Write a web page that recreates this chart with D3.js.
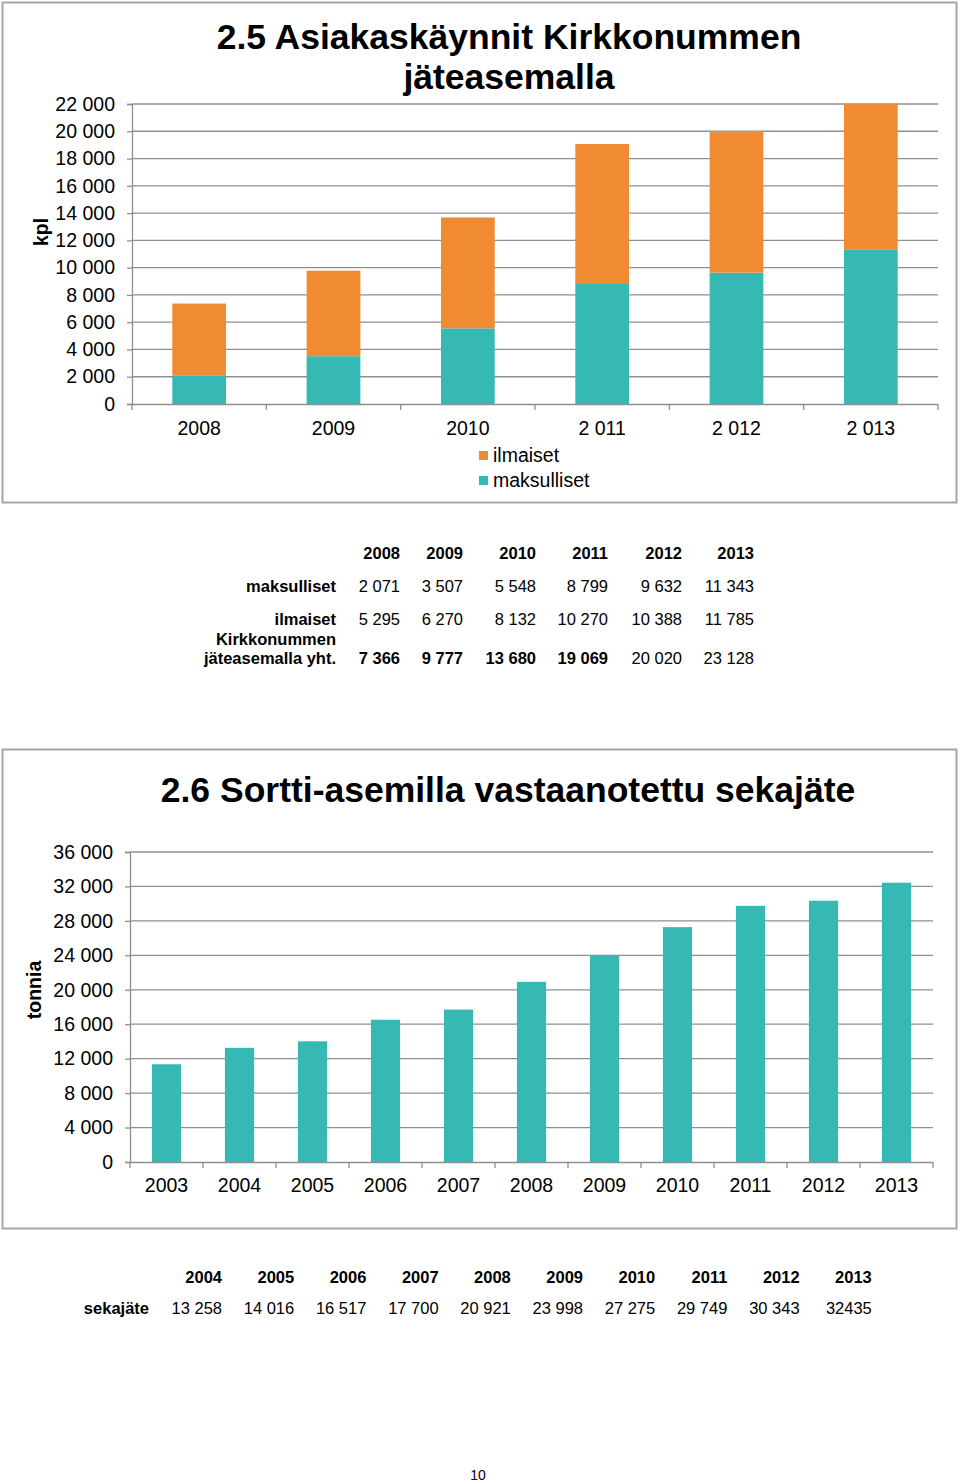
<!DOCTYPE html>
<html>
<head>
<meta charset="utf-8">
<script src="https://cdn.jsdelivr.net/npm/d3@7"></script>
<style>
  body { margin: 0; background: #fff; }
  text { font-family: "Liberation Sans", Arial, sans-serif; fill: #000; }
</style>
</head>
<body>
<svg id="page" width="960" height="1484"></svg>
<script>
// chart 2.5 data
var years1 = ["2008", "2009", "2010", "2011", "2012", "2013"];
var yearLabels1 = ["2008", "2009", "2010", "2 011", "2 012", "2 013"];
var maksulliset = [2071, 3507, 5548, 8799, 9632, 11343];
var ilmaiset = [5295, 6270, 8132, 10270, 10388, 11785];
var yhteensa = [7366, 9777, 13680, 19069, 20020, 23128];
var yhtBold = [true, true, true, true, false, false];

// chart 2.6 data
var years2 = ["2003", "2004", "2005", "2006", "2007", "2008", "2009", "2010", "2011", "2012", "2013"];
var sekajate = [11350, 13258, 14016, 16517, 17700, 20921, 23998, 27275, 29749, 30343, 32435];
var tableYears2 = ["2004", "2005", "2006", "2007", "2008", "2009", "2010", "2011", "2012", "2013"];
var tableVals2 = ["13 258", "14 016", "16 517", "17 700", "20 921", "23 998", "27 275", "29 749", "30 343", "32435"];

var orange = "#f08a33",
    teal = "#36b9b4",
    gridCol = "#8f8f8f",
    frameCol = "#a6a6a6";

var axisFont = 19.5, tableFont = 16.5, titleFont = 35.5;

var fi = d3.formatLocale({decimal: ",", thousands: " ", grouping: [3], currency: ["", ""]});
var fmt = fi.format(",");

var svg = d3.select("#page");

// ---------- chart 2.5 ----------
svg.append("rect")
  .attr("x", 2.5).attr("y", 2.5).attr("width", 954).attr("height", 500)
  .attr("fill", "none").attr("stroke", frameCol).attr("stroke-width", 2);

svg.append("text").attr("x", 509).attr("y", 49)
  .attr("text-anchor", "middle").attr("font-size", titleFont).attr("font-weight", "bold")
  .text("2.5 Asiakaskäynnit Kirkkonummen");
svg.append("text").attr("x", 509).attr("y", 89)
  .attr("text-anchor", "middle").attr("font-size", titleFont).attr("font-weight", "bold")
  .text("jäteasemalla");

var x1 = d3.scaleBand().domain(years1).range([132, 938]).paddingInner(0.6).paddingOuter(0.3);
var y1 = d3.scaleLinear().domain([0, 22000]).range([404, 104]);

var g1 = svg.append("g");

// gridlines
g1.selectAll("line.grid").data(y1.ticks(11).filter(function(d) { return d > 0; }))
  .enter().append("line")
  .attr("x1", 132).attr("x2", 938)
  .attr("y1", function(d) { return y1(d); }).attr("y2", function(d) { return y1(d); })
  .attr("stroke", gridCol).attr("stroke-width", 1.3);

svg.append("clipPath").attr("id", "clip1")
  .append("rect").attr("x", 132).attr("y", 104).attr("width", 806).attr("height", 300);

var rows1 = years1.map(function(y, i) { return {year: y, maksulliset: maksulliset[i], ilmaiset: ilmaiset[i]}; });
var stack1 = d3.stack().keys(["maksulliset", "ilmaiset"])(rows1);
var colors1 = {maksulliset: teal, ilmaiset: orange};

g1.append("g").attr("clip-path", "url(#clip1)")
  .selectAll("g").data(stack1).enter().append("g")
  .attr("fill", function(d) { return colors1[d.key]; })
  .selectAll("rect").data(function(d) { return d; }).enter().append("rect")
  .attr("x", function(d) { return x1(d.data.year); })
  .attr("width", x1.bandwidth())
  .attr("y", function(d) { return y1(d[1]); })
  .attr("height", function(d) { return y1(d[0]) - y1(d[1]); });

// y axis
var ay1 = g1.append("g").attr("transform", "translate(132,0)")
  .call(d3.axisLeft(y1).ticks(11).tickSize(5).tickPadding(12).tickFormat(fmt));
ay1.select(".domain").attr("stroke", gridCol).attr("stroke-width", 1.3);
ay1.selectAll(".tick line").attr("stroke", gridCol).attr("stroke-width", 1.3);
ay1.selectAll(".tick text").attr("font-size", axisFont).attr("font-family", "Liberation Sans, Arial, sans-serif").attr("fill", "#000");

// x axis
g1.append("line").attr("x1", 132).attr("x2", 938).attr("y1", 404.5).attr("y2", 404.5)
  .attr("stroke", gridCol).attr("stroke-width", 1.3);
var step1 = x1.step();
g1.selectAll("line.xt").data(d3.range(years1.length + 1)).enter().append("line")
  .attr("x1", function(i) { return 132 + i * step1; }).attr("x2", function(i) { return 132 + i * step1; })
  .attr("y1", 404).attr("y2", 410)
  .attr("stroke", gridCol).attr("stroke-width", 1.3);
g1.selectAll("text.xl").data(years1).enter().append("text")
  .attr("x", function(d) { return x1(d) + x1.bandwidth() / 2; })
  .attr("y", 435).attr("text-anchor", "middle").attr("font-size", axisFont)
  .text(function(d, i) { return yearLabels1[i]; });

svg.append("text").attr("transform", "translate(48,232) rotate(-90)")
  .attr("text-anchor", "middle").attr("font-size", 19.5).attr("font-weight", "bold").text("kpl");

// legend
var leg = [{name: "ilmaiset", col: orange}, {name: "maksulliset", col: teal}];
var lg = svg.append("g").selectAll("g").data(leg).enter().append("g")
  .attr("transform", function(d, i) { return "translate(479," + (449 + i * 25) + ")"; });
lg.append("rect").attr("width", 9).attr("height", 9).attr("y", 2).attr("fill", function(d) { return d.col; });
lg.append("text").attr("x", 14).attr("y", 13).attr("font-size", axisFont).text(function(d) { return d.name; });

// table 1
var colX1 = [400, 463, 536, 608, 682, 754];
var t1 = svg.append("g");
t1.selectAll("text.h").data(years1).enter().append("text")
  .attr("x", function(d, i) { return colX1[i]; }).attr("y", 559)
  .attr("text-anchor", "end").attr("font-size", tableFont).attr("font-weight", "bold").text(function(d) { return d; });
var tRows = [
  {label: ["maksulliset"], vals: maksulliset, y: 592},
  {label: ["ilmaiset"], vals: ilmaiset, y: 625},
  {label: ["Kirkkonummen", "jäteasemalla yht."], vals: yhteensa, y: 664, bold: yhtBold}
];
tRows.forEach(function(r) {
  r.label.forEach(function(l, j) {
    t1.append("text").attr("x", 336).attr("y", r.y - (r.label.length - 1 - j) * 19.5)
      .attr("text-anchor", "end").attr("font-size", tableFont).attr("font-weight", "bold").text(l);
  });
  t1.selectAll(null).data(r.vals).enter().append("text")
    .attr("x", function(d, i) { return colX1[i]; }).attr("y", r.y)
    .attr("text-anchor", "end").attr("font-size", tableFont)
    .attr("font-weight", function(d, i) { return r.bold && r.bold[i] ? "bold" : "normal"; })
    .text(function(d) { return fmt(d); });
});

// ---------- chart 2.6 ----------
svg.append("rect")
  .attr("x", 2.5).attr("y", 749.5).attr("width", 954).attr("height", 479)
  .attr("fill", "none").attr("stroke", frameCol).attr("stroke-width", 2);

svg.append("text").attr("x", 508).attr("y", 802)
  .attr("text-anchor", "middle").attr("font-size", titleFont).attr("font-weight", "bold")
  .text("2.6 Sortti-asemilla vastaanotettu sekajäte");

var x2 = d3.scaleBand().domain(years2).range([130, 933]).paddingInner(0.6).paddingOuter(0.3);
var y2 = d3.scaleLinear().domain([0, 36000]).range([1162, 852]);
var ticks2 = d3.range(0, 36001, 4000);

var g2 = svg.append("g");
g2.selectAll("line.grid").data(ticks2.filter(function(d) { return d > 0; }))
  .enter().append("line")
  .attr("x1", 130).attr("x2", 933)
  .attr("y1", function(d) { return y2(d); }).attr("y2", function(d) { return y2(d); })
  .attr("stroke", gridCol).attr("stroke-width", 1.3);

g2.selectAll("rect.bar").data(sekajate).enter().append("rect")
  .attr("x", function(d, i) { return x2(years2[i]); })
  .attr("width", x2.bandwidth())
  .attr("y", function(d) { return y2(d); })
  .attr("height", function(d) { return y2(0) - y2(d); })
  .attr("fill", teal);

var ay2 = g2.append("g").attr("transform", "translate(130,0)")
  .call(d3.axisLeft(y2).tickValues(ticks2).tickSize(5).tickPadding(12).tickFormat(fmt));
ay2.select(".domain").attr("stroke", gridCol).attr("stroke-width", 1.3);
ay2.selectAll(".tick line").attr("stroke", gridCol).attr("stroke-width", 1.3);
ay2.selectAll(".tick text").attr("font-size", axisFont).attr("font-family", "Liberation Sans, Arial, sans-serif").attr("fill", "#000");

g2.append("line").attr("x1", 130).attr("x2", 933).attr("y1", 1162.5).attr("y2", 1162.5)
  .attr("stroke", gridCol).attr("stroke-width", 1.3);
var step2 = x2.step();
g2.selectAll("line.xt").data(d3.range(years2.length + 1)).enter().append("line")
  .attr("x1", function(i) { return 130 + i * step2; }).attr("x2", function(i) { return 130 + i * step2; })
  .attr("y1", 1162).attr("y2", 1168)
  .attr("stroke", gridCol).attr("stroke-width", 1.3);
g2.selectAll("text.xl").data(years2).enter().append("text")
  .attr("x", function(d) { return x2(d) + x2.bandwidth() / 2; })
  .attr("y", 1192).attr("text-anchor", "middle").attr("font-size", axisFont)
  .text(function(d) { return d; });

svg.append("text").attr("transform", "translate(41,990) rotate(-90)")
  .attr("text-anchor", "middle").attr("font-size", 19.5).attr("font-weight", "bold").text("tonnia");

// table 2
var t2 = svg.append("g");
var colX2 = tableYears2.map(function(d, i) { return 222 + i * 72.2; });
t2.selectAll("text.h").data(tableYears2).enter().append("text")
  .attr("x", function(d, i) { return colX2[i]; }).attr("y", 1283)
  .attr("text-anchor", "end").attr("font-size", tableFont).attr("font-weight", "bold").text(function(d) { return d; });
t2.append("text").attr("x", 149).attr("y", 1314)
  .attr("text-anchor", "end").attr("font-size", tableFont).attr("font-weight", "bold").text("sekajäte");
t2.selectAll("text.v").data(tableVals2).enter().append("text")
  .attr("x", function(d, i) { return colX2[i]; }).attr("y", 1314)
  .attr("text-anchor", "end").attr("font-size", tableFont).text(function(d) { return d; });

// page number
svg.append("text").attr("x", 478).attr("y", 1480).attr("text-anchor", "middle").attr("font-size", 14).text("10");
</script>
</body>
</html>
